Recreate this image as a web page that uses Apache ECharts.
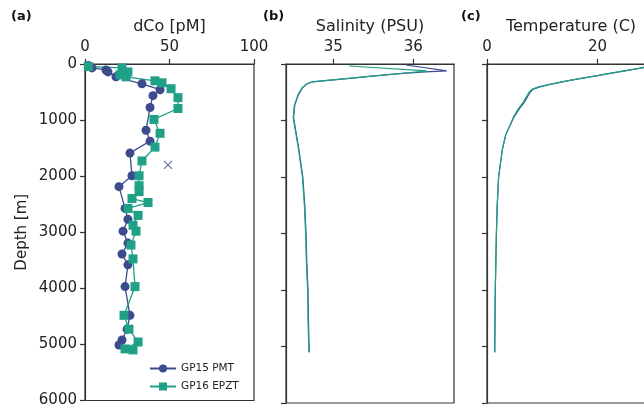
<!DOCTYPE html>
<html>
<head>
<meta charset="utf-8">
<script src="https://cdn.jsdelivr.net/npm/echarts@6/dist/echarts.min.js"></script>
<style>
  html, body { margin: 0; padding: 0; background: #fff; overflow: hidden; width: 644px; height: 408px; }
  /* the third panel runs past the right edge of the page */
  #chart { width: 664px; height: 408px; }
</style>
</head>
<body>
<div id="chart"></div>
<script>
// ---- dissolved cobalt profiles (pM vs depth in m) ----
const gp15Depth = [25, 70, 106, 141, 229, 353, 459, 564, 776, 1182, 1376, 1588, 1993, 2187, 2575, 2770, 2981, 3193, 3387, 3581, 3969, 4481, 4728, 4922, 5010];
const gp15Co    = [2.0, 4.1, 12.4, 13.6, 18.3, 33.7, 44.4, 40.2, 38.5, 36.1, 38.5, 26.6, 27.8, 20.1, 23.7, 25.4, 22.5, 25.4, 21.9, 25.4, 23.7, 26.6, 24.9, 21.9, 20.1];

const gp16Depth = [45, 70, 141, 194, 229, 300, 335, 441, 600, 794, 988, 1235, 1482, 1729, 1993, 2170, 2276, 2399, 2470, 2575, 2699, 2875, 2981, 3228, 3475, 3969, 4481, 4728, 4957, 5080, 5098];
const gp16Co    = [2.0, 21.9, 25.4, 20.7, 24.3, 41.4, 45.6, 50.9, 55.0, 55.0, 40.8, 44.4, 41.4, 33.7, 32.0, 32.0, 32.0, 27.8, 37.3, 25.4, 31.4, 28.4, 30.2, 27.2, 28.4, 29.6, 23.1, 26.0, 31.4, 23.7, 28.4];

// flagged GP15 sample
const flaggedDepth = [1799];
const flaggedCo    = [49.1];

// ---- salinity (PSU) ----
const sal15Depth = [18, 123, 140, 160, 180, 220, 260, 300, 318, 350, 423, 547, 723, 950, 1250, 1500, 2000, 2500, 3000, 3500, 4000, 4500, 5100];
const sal15      = [35.91, 36.42, 36.15, 35.92, 35.76, 35.46, 35.17, 34.87, 34.74, 34.675, 34.615, 34.565, 34.52, 34.505, 34.54, 34.57, 34.62, 34.645, 34.66, 34.67, 34.685, 34.69, 34.70];

const sal16Depth = [35, 123, 150, 180, 220, 260, 300, 318, 350, 423, 547, 723, 950, 1250, 1500, 2000, 2500, 3000, 3500, 4000, 4500, 5100];
const sal16      = [35.20, 36.17, 35.97, 35.75, 35.45, 35.16, 34.86, 34.73, 34.67, 34.61, 34.56, 34.515, 34.50, 34.535, 34.565, 34.615, 34.64, 34.655, 34.665, 34.68, 34.685, 34.695];

// ---- temperature (C) ----
const tDepth = [0, 30, 65, 100, 135, 170, 206, 250, 300, 370, 410, 450, 500, 550, 670, 800, 935, 1100, 1250, 1500, 2000, 2500, 3000, 3500, 4000, 4500, 5100];
const temp15 = [29.0, 28.8, 28.3, 26.2, 24.1, 22.0, 20.0, 17.3, 14.5, 11.0, 9.4, 8.3, 7.8, 7.5, 6.8, 5.8, 4.9, 4.1, 3.4, 2.8, 2.1, 1.85, 1.7, 1.6, 1.5, 1.45, 1.4];
const temp16 = [29.0, 28.8, 28.3, 26.2, 24.1, 22.0, 20.0, 17.3, 14.5, 10.9, 9.2, 8.1, 7.6, 7.3, 6.6, 5.6, 4.8, 4.1, 3.4, 2.8, 2.1, 1.85, 1.7, 1.6, 1.5, 1.45, 1.4];

const coTicks = [0, 50, 100];
const salTicks = [35, 36];
const tempTicks = [0, 20];

const NAVY = '#3b4b8c';
const TEAL = '#20a187';
const FONT = 'DejaVu Sans';
const AX = '#333';

const pair = (xs, ds) => xs.map((x, i) => [x, ds[i]]);

function topAxis(gridIndex, name, min, max, ticks) {
  return {
    gridIndex, type: 'value', position: 'top', min, max,
    name, nameLocation: 'middle', nameGap: 27,
    nameTextStyle: { fontFamily: FONT, fontSize: 16, color: '#222' },
    axisLine: { show: true, lineStyle: { color: AX, width: 1.2 } },
    axisTick: { show: true, length: 5, lineStyle: { color: AX, width: 1.2 }, customValues: ticks },
    axisLabel: { show: true, margin: 9, fontFamily: FONT, fontSize: 15, color: '#222', customValues: ticks,
                 formatter: v => String(v) },
    splitLine: { show: false }
  };
}

function depthAxis(gridIndex, withLabels) {
  return {
    gridIndex, type: 'value', inverse: true, min: 0, max: 6000, interval: 1000,
    name: withLabels ? 'Depth [m]' : '', nameLocation: 'middle', nameGap: 55,
    nameTextStyle: { fontFamily: FONT, fontSize: 15, color: '#222' },
    axisLine: { show: true, lineStyle: { color: AX, width: 1.2 } },
    axisTick: { show: true, length: 5, lineStyle: { color: AX, width: 1.2 } },
    axisLabel: { show: withLabels, margin: 8, fontFamily: FONT, fontSize: 15, color: '#222',
                 formatter: v => String(v) },
    splitLine: { show: false }
  };
}

const gridBase = { top: 64, height: 339, show: true, borderColor: AX, borderWidth: 1.2, backgroundColor: 'transparent' };

const option = {
  animation: false,
  backgroundColor: '#fff',
  grid: [
    Object.assign({ left: 85, width: 169 }, gridBase),
    Object.assign({ left: 286, width: 168 }, gridBase),
    Object.assign({ left: 487, width: 168 }, gridBase)
  ],
  xAxis: [
    topAxis(0, 'dCo [pM]', 0, 100, coTicks),
    topAxis(1, 'Salinity (PSU)', 34.41, 36.51, salTicks),
    topAxis(2, 'Temperature (C)', 0, 30.4, tempTicks)
  ],
  yAxis: [depthAxis(0, true), depthAxis(1, false), depthAxis(2, false)],
  legend: {
    left: 144, top: 358, orient: 'vertical', itemWidth: 26, itemHeight: 10, itemGap: 7,
    textStyle: { fontFamily: FONT, fontSize: 10.5, color: '#222' },
    data: ['GP15 PMT', 'GP16 EPZT']
  },
  graphic: [
    { type: 'text', left: 11, top: 10, style: { text: '(a)', font: 'bold 13px "DejaVu Sans"', fill: '#111' } },
    { type: 'text', left: 263, top: 10, style: { text: '(b)', font: 'bold 13px "DejaVu Sans"', fill: '#111' } },
    { type: 'text', left: 461, top: 10, style: { text: '(c)', font: 'bold 13px "DejaVu Sans"', fill: '#111' } }
  ],
  series: [
    {
      name: 'GP15 PMT', type: 'line', xAxisIndex: 0, yAxisIndex: 0,
      data: pair(gp15Co, gp15Depth),
      symbol: 'circle', symbolSize: 9, showAllSymbol: true,
      lineStyle: { color: NAVY, width: 1.3 }, itemStyle: { color: NAVY }
    },
    {
      name: 'GP16 EPZT', type: 'line', xAxisIndex: 0, yAxisIndex: 0,
      data: pair(gp16Co, gp16Depth),
      symbol: 'rect', symbolSize: 9, showAllSymbol: true,
      lineStyle: { color: TEAL, width: 1.3 }, itemStyle: { color: TEAL }
    },
    {
      name: 'flagged', type: 'scatter', xAxisIndex: 0, yAxisIndex: 0,
      data: pair(flaggedCo, flaggedDepth),
      symbol: 'path://M0,0L10,10M10,0L0,10', symbolSize: 8,
      itemStyle: { color: 'none', borderColor: NAVY, borderWidth: 1.2 }
    },
    {
      name: 'GP15 PMT', type: 'line', xAxisIndex: 1, yAxisIndex: 1,
      data: pair(sal15, sal15Depth), symbol: 'none',
      lineStyle: { color: NAVY, width: 1.2 }, itemStyle: { color: NAVY }
    },
    {
      name: 'GP16 EPZT', type: 'line', xAxisIndex: 1, yAxisIndex: 1,
      data: pair(sal16, sal16Depth), symbol: 'none',
      lineStyle: { color: TEAL, width: 1.2 }, itemStyle: { color: TEAL }
    },
    {
      name: 'GP15 PMT', type: 'line', xAxisIndex: 2, yAxisIndex: 2,
      data: pair(temp15, tDepth), symbol: 'none',
      lineStyle: { color: NAVY, width: 1.2 }, itemStyle: { color: NAVY }
    },
    {
      name: 'GP16 EPZT', type: 'line', xAxisIndex: 2, yAxisIndex: 2,
      data: pair(temp16, tDepth), symbol: 'none',
      lineStyle: { color: TEAL, width: 1.2 }, itemStyle: { color: TEAL }
    }
  ]
};

const chart = echarts.init(document.getElementById('chart'), null, { renderer: 'canvas' });
chart.setOption(option);
</script>
</body>
</html>
